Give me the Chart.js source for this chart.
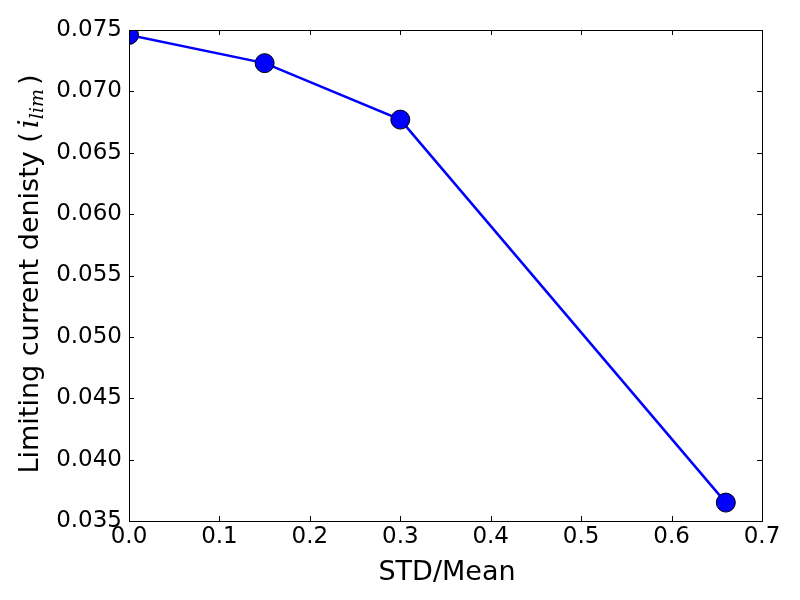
<!DOCTYPE html>
<html><head><meta charset="utf-8">
<script src="https://cdn.jsdelivr.net/npm/chart.js@4"></script>
<style>html,body{margin:0;padding:0;background:#fff}</style>
</head><body>
<canvas id="c" width="800" height="600"></canvas>
<script>
const stdMean = [0, 0.15, 0.3, 0.66];
const currentDensity = [0.0746, 0.0723, 0.0677, 0.0365];
const xTickValues = [0, 0.1, 0.2, 0.3, 0.4, 0.5, 0.6, 0.7];
const yTickValues = [0.035, 0.040, 0.045, 0.050, 0.055, 0.060, 0.065, 0.070, 0.075];
const xLabel = 'STD/Mean';
const yLabelMain = 'Limiting current denisty (';

const FONT = 'DejaVu Sans';

const frameAndTitles = {
  id: 'frameAndTitles',
  afterDraw(chart) {
    const ctx = chart.ctx;
    const a = chart.chartArea;
    const xs = chart.scales.x, ys = chart.scales.y;
    ctx.save();
    ctx.strokeStyle = '#000';
    ctx.lineWidth = 1;
    ctx.strokeRect(Math.round(a.left) + 0.5, Math.round(a.top) + 0.5, Math.round(a.right - a.left), Math.round(a.bottom - a.top));
    const tl = 5;
    ctx.beginPath();
    xTickValues.forEach(v => {
      const px = Math.round(xs.getPixelForValue(v)) + 0.5;
      ctx.moveTo(px, a.bottom); ctx.lineTo(px, a.bottom - tl);
      ctx.moveTo(px, a.top); ctx.lineTo(px, a.top + tl);
    });
    yTickValues.forEach(v => {
      const py = Math.round(ys.getPixelForValue(v)) + 0.5;
      ctx.moveTo(a.left, py); ctx.lineTo(a.left + tl, py);
      ctx.moveTo(a.right, py); ctx.lineTo(a.right - tl, py);
    });
    ctx.stroke();
    ctx.fillStyle = '#000';
    ctx.font = '27px "' + FONT + '"';
    ctx.textAlign = 'center';
    ctx.textBaseline = 'alphabetic';
    ctx.fillText(xLabel, 447, 580);
    ctx.translate(38, 274);
    ctx.rotate(-Math.PI / 2);
    ctx.textAlign = 'left';
    ctx.textBaseline = 'alphabetic';
    const mainFont = '27px "' + FONT + '"';
    const itFont = 'italic 28px "DejaVu Serif"';
    const subFont = 'italic 19px "DejaVu Serif"';
    ctx.font = mainFont; const w1 = ctx.measureText(yLabelMain).width;
    ctx.font = itFont; const w2 = ctx.measureText('i').width;
    ctx.font = subFont; const w3 = ctx.measureText('lim').width;
    ctx.font = mainFont; const w4 = ctx.measureText(')').width;
    const gap = 4;
    const total = w1 + gap + w2 + w3 + gap + w4;
    let x = -total / 2;
    ctx.font = mainFont; ctx.fillText(yLabelMain, x, 0); x += w1 + gap;
    ctx.font = itFont; ctx.fillText('i', x, 0); x += w2;
    ctx.font = subFont; ctx.fillText('lim', x, 5); x += w3 + gap;
    ctx.font = mainFont; ctx.fillText(')', x, 0);
    ctx.restore();
  }
};

new Chart(document.getElementById('c'), {
  type: 'line',
  data: {
    datasets: [{
      data: stdMean.map((x, i) => ({ x: x, y: currentDensity[i] })),
      borderColor: '#0000ff',
      backgroundColor: '#0000ff',
      borderWidth: 2.5,
      pointRadius: 9.5,
      pointHoverRadius: 9.5,
      pointBackgroundColor: '#0000ff',
      pointBorderColor: '#000000',
      pointBorderWidth: 1,
      tension: 0,
      clip: 0
    }]
  },
  plugins: [frameAndTitles],
  options: {
    responsive: false,
    animation: false,
    events: [],
    layout: { padding: { top: 30, right: 38, left: 0, bottom: 0 } },
    plugins: { legend: { display: false }, tooltip: { enabled: false }, title: { display: false } },
    scales: {
      x: {
        type: 'linear',
        min: 0, max: 0.7,
        afterFit(s) { s.height = 79; },
        afterBuildTicks(s) { s.ticks = xTickValues.map(v => ({ value: v })); },
        grid: { display: false, drawTicks: false },
        border: { display: false },
        ticks: {
          color: '#000',
          font: { family: FONT, size: 23 },
          padding: 2,
          maxRotation: 0,
          callback: v => Number(v).toFixed(1)
        }
      },
      y: {
        type: 'linear',
        min: 0.035, max: 0.075,
        afterFit(s) { s.width = 129; },
        afterBuildTicks(s) { s.ticks = yTickValues.map(v => ({ value: v })); },
        grid: { display: false, drawTicks: false },
        border: { display: false },
        ticks: {
          color: '#000',
          font: { family: FONT, size: 23 },
          padding: 7,
          callback: v => Number(v).toFixed(3)
        }
      }
    }
  }
});
</script>
</body></html>
